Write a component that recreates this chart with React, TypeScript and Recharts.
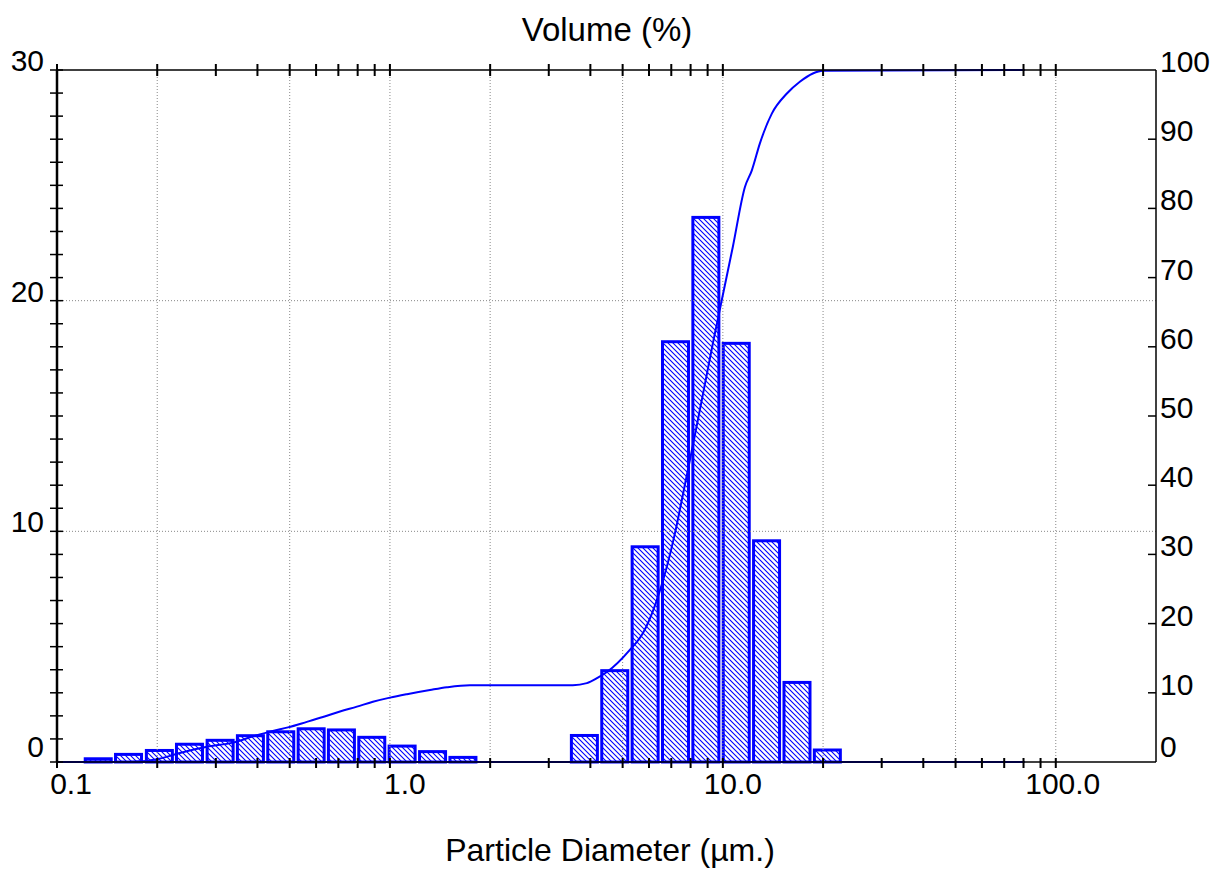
import { ComposedChart, Bar, Line, XAxis, YAxis, ReferenceLine } from "recharts";

// histogram bins (µm, bin centre) and volume %
const binSizes = [0.133, 0.164, 0.203, 0.25, 0.309, 0.381, 0.47, 0.58, 0.715, 0.882, 1.088, 1.343, 1.657,
  3.838, 4.735, 5.842, 7.207, 8.892, 10.97, 13.53, 16.7, 20.6];
const volumePct = [0.14, 0.33, 0.5, 0.77, 0.94, 1.14, 1.31, 1.44, 1.39, 1.07, 0.69, 0.45, 0.2,
  1.15, 3.96, 9.33, 18.22, 23.61, 18.15, 9.59, 3.45, 0.52];

// cumulative undersize curve
const cumSizes = [0.1, 0.166, 0.2, 0.234, 0.282, 0.338, 0.388, 0.445, 0.494, 0.563, 0.629, 0.708, 0.796, 0.889,
  1.0, 1.125, 1.319, 1.483, 1.739, 3.544, 3.905, 4.213, 4.484, 5.256, 5.751, 6.336, 6.789, 7.176, 7.532,
  8.185, 8.89, 9.333, 9.931, 10.72, 11.65, 12.22, 12.92, 14.03, 15.57, 17.03, 18.63, 19.97, 80.7];
const cumPct = [0, 0, 0.4, 1.3, 2.2, 2.8, 3.7, 4.5, 5.0, 5.8, 6.5, 7.3, 8.0, 8.7,
  9.3, 9.8, 10.4, 10.8, 11.1, 11.1, 11.4, 12.2, 13.0, 16.2, 18.6, 23.4, 28.2, 33.0, 37.9,
  46.5, 55.3, 60.5, 66.8, 74.5, 83.1, 85.5, 89.4, 93.7, 96.6, 98.3, 99.5, 99.9, 100];

const xTicks = [0.1, 0.2, 0.3, 0.4, 0.5, 0.6, 0.7, 0.8, 0.9, 1, 2, 3, 4, 5, 6, 7, 8, 9,
  10, 20, 30, 40, 50, 60, 70, 80, 90, 100];
const xLabels = ["0.1", "1.0", "10.0", "100.0"];
const xLabelValues = [0.1, 1, 10, 100];
const xGrid = [0.2, 0.5, 1, 2, 5, 10, 20, 50, 100];
const leftTicks = [0, 1, 2, 3, 4, 5, 6, 7, 8, 9, 10, 11, 12, 13, 14, 15, 16, 17, 18, 19, 20,
  21, 22, 23, 24, 25, 26, 27, 28, 29, 30];
const leftLabels = [0, 10, 20, 30];
const rightTicks = [0, 10, 20, 30, 40, 50, 60, 70, 80, 90, 100];
const yGrid = [10, 20];

const bars = binSizes.map((s, i) => ({ size: s, vol: volumePct[i] }));
const cumData = cumSizes.map((s, i) => ({ size: s, cum: cumPct[i] }));

const BLUE = "#0000ff";
const FONT = "'Liberation Sans', Arial, sans-serif";
const labelDx: Record<number, number> = { 0.1: 14, 1: 15, 10: 10, 100: 7 };
const BAR_W = 26;

function BottomTick(props: any) {
  const { x, y, payload } = props;
  const idx = xLabelValues.indexOf(payload.value);
  return (
    <g>
      <line x1={x} x2={x} y1={y - 4} y2={y + 6} stroke="#000" strokeWidth={2} />
      {idx >= 0 && (
        <text x={x + labelDx[payload.value]} y={y + 32} textAnchor="middle" fontSize={30} fontFamily={FONT} fill="#000">
          {xLabels[idx]}
        </text>
      )}
    </g>
  );
}

function TopTick(props: any) {
  const { x, y } = props;
  return <line x1={x} x2={x} y1={y - 6} y2={y + 6} stroke="#000" strokeWidth={2} />;
}

function LeftTick(props: any) {
  const { x, y, payload } = props;
  const v = payload.value;
  return (
    <g>
      <line x1={x - 7} x2={x + 6} y1={y} y2={y} stroke="#000" strokeWidth={1.5} />
      {leftLabels.includes(v) && (
        <text x={x - 13} y={v === 0 ? y - 5 : y + 1} textAnchor="end" fontSize={30} fontFamily={FONT} fill="#000">
          {v}
        </text>
      )}
    </g>
  );
}

function RightTick(props: any) {
  const { x, y, payload } = props;
  const v = payload.value;
  return (
    <g>
      {v > 0 && v < 100 && <line x1={x - 8} x2={x} y1={y} y2={y} stroke="#000" strokeWidth={1.5} />}
      <text x={x + 4} y={v === 0 ? y - 5 : y + 2} textAnchor="start" fontSize={30} fontFamily={FONT} fill="#000">
        {v}
      </text>
    </g>
  );
}

function HatchBar(props: any) {
  const { x, y, width, height } = props;
  if (!height || height <= 0) return <g />;
  const cx = x + width / 2;
  return (
    <rect
      x={cx - BAR_W / 2}
      y={y}
      width={BAR_W}
      height={height}
      fill="url(#hatch)"
      stroke={BLUE}
      strokeWidth={3}
    />
  );
}

export default function App() {
  return (
    <div style={{ position: "absolute", left: 0, top: 0, width: 1226, height: 871, background: "#fff" }}>
      <ComposedChart width={1226} height={871} data={bars} margin={{ top: 69, right: 0, bottom: 0, left: 0 }}>
        <defs>
          <pattern id="hatch" patternUnits="userSpaceOnUse" width={5} height={5}>
            <path d="M0,0 L5,5 M-1,4 L1,6 M4,-1 L6,1" stroke={BLUE} strokeWidth={1.1} />
          </pattern>
        </defs>
        <XAxis
          dataKey="size"
          type="number"
          scale="log"
          domain={[0.1, 200]}
          allowDataOverflow
          ticks={xTicks}
          interval={0}
          height={109}
          tickSize={0}
          tickMargin={0}
          tick={<BottomTick />}
          axisLine={{ stroke: "#000", strokeWidth: 1.5 }}
        />
        <XAxis
          xAxisId="top"
          dataKey="size"
          orientation="top"
          type="number"
          scale="log"
          domain={[0.1, 200]}
          allowDataOverflow
          ticks={xTicks}
          interval={0}
          height={1}
          tickSize={0}
          tickMargin={0}
          tick={<TopTick />}
          axisLine={{ stroke: "#000", strokeWidth: 1.5 }}
        />
        <YAxis
          yAxisId="left"
          domain={[0, 30]}
          ticks={leftTicks}
          interval={0}
          width={57}
          tickSize={0}
          tickMargin={0}
          tick={<LeftTick />}
          axisLine={{ stroke: "#000", strokeWidth: 2.5 }}
        />
        <YAxis
          yAxisId="right"
          orientation="right"
          domain={[0, 100]}
          ticks={rightTicks}
          interval={0}
          width={70}
          tickSize={0}
          tickMargin={0}
          tick={<RightTick />}
          axisLine={{ stroke: "#000", strokeWidth: 1.5 }}
        />
        {xGrid.map((g) => (
          <ReferenceLine key={"vx" + g} x={g} yAxisId="left" stroke="#888" strokeDasharray="1 2" strokeWidth={1} />
        ))}
        {yGrid.map((g) => (
          <ReferenceLine key={"hy" + g} y={g} yAxisId="left" stroke="#888" strokeDasharray="1 2" strokeWidth={1} />
        ))}
        <ReferenceLine
          yAxisId="left"
          segment={[{ x: 0.1, y: 0 }, { x: 80.7, y: 0 }]}
          stroke={BLUE}
          strokeWidth={2}
        />
        <Bar
          dataKey="vol"
          yAxisId="left"
          barSize={26}
          shape={<HatchBar />}
          isAnimationActive={false}
        />
        <Line
          data={cumData}
          dataKey="cum"
          yAxisId="right"
          type="monotone"
          stroke={BLUE}
          strokeWidth={2}
          dot={false}
          isAnimationActive={false}
        />
      </ComposedChart>
      <svg width={1226} height={871} style={{ position: "absolute", left: 0, top: 0, pointerEvents: "none" }}>
        <text x={607} y={41} textAnchor="middle" fontSize={33} fontFamily={FONT} fill="#000">
          Volume (%)
        </text>
        <text x={610} y={861} textAnchor="middle" fontSize={32} fontFamily={FONT} fill="#000">
          Particle Diameter (µm.)
        </text>
      </svg>
    </div>
  );
}
